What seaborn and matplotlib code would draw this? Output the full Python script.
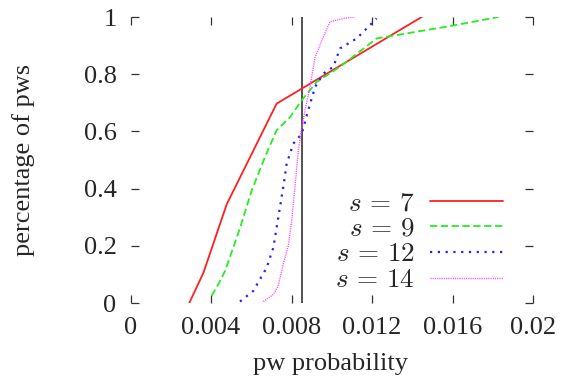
import matplotlib
matplotlib.use("Agg")
import matplotlib.pyplot as plt
import seaborn as sns
import pandas as pd

# ---- data ----
s7_x = [0.00292, 0.00362, 0.00478, 0.00726, 0.01447]
s7_y = [0.0, 0.105, 0.345, 0.697, 1.0]

s9_x = [0.00403, 0.00440, 0.00470, 0.00545, 0.00602, 0.00668, 0.00726, 0.00793,
        0.00851, 0.00925, 0.01041, 0.01223, 0.01602, 0.01828]
s9_y = [0.025, 0.07, 0.112, 0.264, 0.393, 0.51, 0.604, 0.65,
        0.709, 0.773, 0.826, 0.925, 0.97, 1.0]

s12_x = [0.00544, 0.00610, 0.00677, 0.00710, 0.00759, 0.00776, 0.00809, 0.00851,
         0.00883, 0.00917, 0.00958, 0.01008, 0.01041, 0.01124, 0.01223]
s12_y = [0.005, 0.042, 0.124, 0.194, 0.405, 0.487, 0.557, 0.592,
         0.674, 0.755, 0.802, 0.826, 0.89, 0.925, 0.995]

s14_x = [0.00660, 0.00710, 0.00734, 0.00759, 0.00784, 0.00801, 0.00817, 0.00834,
         0.00846, 0.00867, 0.00892, 0.00917, 0.00958, 0.00991, 0.01057, 0.01116]
s14_y = [0.005, 0.03, 0.06, 0.136, 0.2, 0.288, 0.405, 0.533,
         0.592, 0.674, 0.755, 0.86, 0.93, 0.983, 0.995, 1.0]

series_labels = [r"$s\,=\,7$", r"$s\,=\,9$", r"$s\,=\,12$", r"$s\,=\,14$"]
vline_x = 0.00851

x_ticks = [0, 0.004, 0.008, 0.012, 0.016, 0.02]
x_tick_labels = ["0", "0.004", "0.008", "0.012", "0.016", "0.02"]
y_ticks = [0, 0.2, 0.4, 0.6, 0.8, 1.0]
y_tick_labels = ["0", "0.2", "0.4", "0.6", "0.8", "1"]

# ---- styling ----
sns.set_style("white")
plt.rcParams["font.family"] = ["Liberation Serif", "DejaVu Serif"]
plt.rcParams["mathtext.fontset"] = "cm"

FS = 19
fig = plt.figure(figsize=(5.63, 3.86), dpi=100)
ax = fig.add_axes([130.5 / 563, 1 - 303 / 386, (533 - 130.5) / 563, (303 - 17) / 386])

styles = [
    dict(color="#ff2020", linestyle="-", lw=1.3),
    dict(color="#22ee22", linestyle=(0, (4, 2)), lw=1.3),
    dict(color="#2222ff", linestyle=(0, (1, 2.5)), lw=1.6),
    dict(color="#ff44ff", linestyle=(0, (0.8, 0.8)), lw=1.0),
]
all_x = [s7_x, s9_x, s12_x, s14_x]
all_y = [s7_y, s9_y, s12_y, s14_y]

for xs, ys, lab, st in zip(all_x, all_y, series_labels, styles):
    df = pd.DataFrame({"x": xs, "y": ys})
    sns.lineplot(data=df, x="x", y="y", ax=ax, sort=False, estimator=None,
                 label=lab, **st)

ax.axvline(vline_x, color="#444444", lw=1.3, zorder=1)

ax.set_xlim(0, 0.02)
ax.set_ylim(0, 1)
ax.set_xticks(x_ticks)
ax.set_xticklabels(x_tick_labels)
ax.set_yticks(y_ticks)
ax.set_yticklabels(y_tick_labels)
for sp in ax.spines.values():
    sp.set_visible(False)
ax.tick_params(direction="in", length=6, width=0.9, color="#333333",
               top=True, right=True, bottom=True, left=True,
               labelsize=FS, pad=10)
ax.grid(False)

ax.set_xlabel("pw probability", fontsize=FS)
ax.set_ylabel("percentage of pws", fontsize=FS)
ax.xaxis.set_label_coords(0.496, -0.175)
ax.yaxis.set_label_coords(-0.237, 0.5)

leg = ax.legend(loc="lower right", bbox_to_anchor=(0.925, 0.035), frameon=False,
                markerfirst=False, fontsize=19.5, handlelength=2.7,
                handletextpad=0.55, labelspacing=0.02, borderpad=0,
                borderaxespad=0)

fig.savefig("out.png", dpi=100)
